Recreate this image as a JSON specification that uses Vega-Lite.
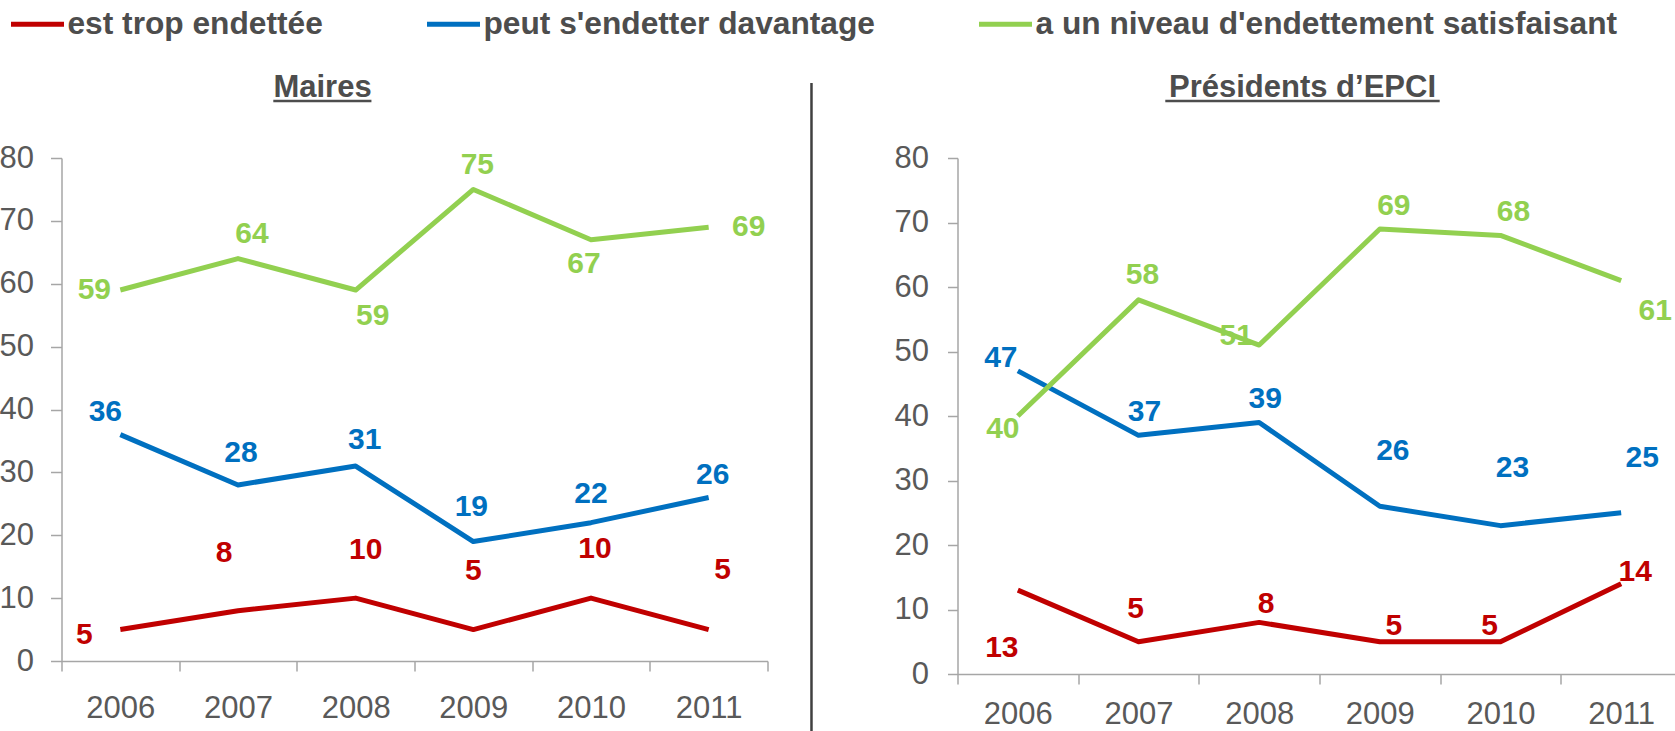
{
  "$schema": "https://vega.github.io/schema/vega-lite/v6.json",
  "background": "white",
  "padding": {"left": -1.5, "top": -5, "right": 0, "bottom": 0},
  "spacing": 20,
  "config": {
    "font": "Liberation Sans",
    "view": {"stroke": null},
    "axis": {"labelFont": "Liberation Sans", "labelFontSize": 31, "labelColor": "#595959", "domainColor": "#a6a6a6", "tickColor": "#a6a6a6", "domainWidth": 1.5, "tickWidth": 1.5, "grid": false, "title": null},
    "text": {"font": "Liberation Sans", "fontSize": 30, "fontWeight": "bold", "align": "center", "baseline": "middle"},
    "legend": {"title": null, "symbolType": "stroke", "symbolSize": 2809, "symbolStrokeWidth": 5, "labelFontSize": 31.7, "labelFontWeight": "bold", "labelColor": "#4d4d4d", "labelFont": "Liberation Sans", "labelLimit": 1000, "columnPadding": 93, "labelOffset": 1}
  },
  "datasets": {
    "d": [
      {"panel": "Maires", "serie": "est trop endettée", "annee": "2006", "valeur": 5},
      {"panel": "Maires", "serie": "est trop endettée", "annee": "2007", "valeur": 8},
      {"panel": "Maires", "serie": "est trop endettée", "annee": "2008", "valeur": 10},
      {"panel": "Maires", "serie": "est trop endettée", "annee": "2009", "valeur": 5},
      {"panel": "Maires", "serie": "est trop endettée", "annee": "2010", "valeur": 10},
      {"panel": "Maires", "serie": "est trop endettée", "annee": "2011", "valeur": 5},
      {"panel": "Maires", "serie": "peut s'endetter davantage", "annee": "2006", "valeur": 36},
      {"panel": "Maires", "serie": "peut s'endetter davantage", "annee": "2007", "valeur": 28},
      {"panel": "Maires", "serie": "peut s'endetter davantage", "annee": "2008", "valeur": 31},
      {"panel": "Maires", "serie": "peut s'endetter davantage", "annee": "2009", "valeur": 19},
      {"panel": "Maires", "serie": "peut s'endetter davantage", "annee": "2010", "valeur": 22},
      {"panel": "Maires", "serie": "peut s'endetter davantage", "annee": "2011", "valeur": 26},
      {"panel": "Maires", "serie": "a un niveau d'endettement satisfaisant", "annee": "2006", "valeur": 59},
      {"panel": "Maires", "serie": "a un niveau d'endettement satisfaisant", "annee": "2007", "valeur": 64},
      {"panel": "Maires", "serie": "a un niveau d'endettement satisfaisant", "annee": "2008", "valeur": 59},
      {"panel": "Maires", "serie": "a un niveau d'endettement satisfaisant", "annee": "2009", "valeur": 75},
      {"panel": "Maires", "serie": "a un niveau d'endettement satisfaisant", "annee": "2010", "valeur": 67},
      {"panel": "Maires", "serie": "a un niveau d'endettement satisfaisant", "annee": "2011", "valeur": 69},
      {"panel": "EPCI", "serie": "est trop endettée", "annee": "2006", "valeur": 13},
      {"panel": "EPCI", "serie": "est trop endettée", "annee": "2007", "valeur": 5},
      {"panel": "EPCI", "serie": "est trop endettée", "annee": "2008", "valeur": 8},
      {"panel": "EPCI", "serie": "est trop endettée", "annee": "2009", "valeur": 5},
      {"panel": "EPCI", "serie": "est trop endettée", "annee": "2010", "valeur": 5},
      {"panel": "EPCI", "serie": "est trop endettée", "annee": "2011", "valeur": 14},
      {"panel": "EPCI", "serie": "peut s'endetter davantage", "annee": "2006", "valeur": 47},
      {"panel": "EPCI", "serie": "peut s'endetter davantage", "annee": "2007", "valeur": 37},
      {"panel": "EPCI", "serie": "peut s'endetter davantage", "annee": "2008", "valeur": 39},
      {"panel": "EPCI", "serie": "peut s'endetter davantage", "annee": "2009", "valeur": 26},
      {"panel": "EPCI", "serie": "peut s'endetter davantage", "annee": "2010", "valeur": 23},
      {"panel": "EPCI", "serie": "peut s'endetter davantage", "annee": "2011", "valeur": 25},
      {"panel": "EPCI", "serie": "a un niveau d'endettement satisfaisant", "annee": "2006", "valeur": 40},
      {"panel": "EPCI", "serie": "a un niveau d'endettement satisfaisant", "annee": "2007", "valeur": 58},
      {"panel": "EPCI", "serie": "a un niveau d'endettement satisfaisant", "annee": "2008", "valeur": 51},
      {"panel": "EPCI", "serie": "a un niveau d'endettement satisfaisant", "annee": "2009", "valeur": 69},
      {"panel": "EPCI", "serie": "a un niveau d'endettement satisfaisant", "annee": "2010", "valeur": 68},
      {"panel": "EPCI", "serie": "a un niveau d'endettement satisfaisant", "annee": "2011", "valeur": 61}
    ]
  },
  "hconcat": [
    {
      "width": 706,
      "height": 503,
      "resolve": {"scale": {"x": "independent"}},
      "layer": [
        {
          "data": {"name": "d"},
          "transform": [{"filter": "datum.panel=='Maires'"}],
          "encoding": {
            "x": {"field": "annee", "type": "ordinal", "scale": {"type": "band", "paddingInner": 0, "paddingOuter": 0}, "axis": {"tickBand": "extent", "labelAngle": 0, "tickSize": 10, "labelPadding": 22, "title": null}},
            "y": {"field": "valeur", "type": "quantitative", "scale": {"domain": [0, 80], "nice": false}, "axis": {"values": [0, 10, 20, 30, 40, 50, 60, 70, 80], "tickSize": 11, "labelPadding": 17, "title": null}},
            "color": {"field": "serie", "type": "nominal", "scale": {"domain": ["est trop endettée", "peut s'endetter davantage", "a un niveau d'endettement satisfaisant"], "range": ["#C00000", "#0070C0", "#92D050"]}, "legend": {"orient": "none", "legendX": -53, "legendY": -163, "direction": "horizontal"}}
          },
          "layer": [
            {"mark": {"type": "line", "strokeWidth": 5, "strokeJoin": "round"}},
            {"transform": [{"filter": "indexof(datum.serie,'trop')>=0 && datum.annee=='2006'"}], "mark": {"type": "text", "dx": -36, "dy": 5}, "encoding": {"text": {"field": "valeur"}}},
            {"transform": [{"filter": "indexof(datum.serie,'trop')>=0 && datum.annee=='2007'"}], "mark": {"type": "text", "dx": -14, "dy": -58}, "encoding": {"text": {"field": "valeur"}}},
            {"transform": [{"filter": "indexof(datum.serie,'trop')>=0 && datum.annee=='2008'"}], "mark": {"type": "text", "dx": 10, "dy": -48}, "encoding": {"text": {"field": "valeur"}}},
            {"transform": [{"filter": "indexof(datum.serie,'trop')>=0 && datum.annee=='2009'"}], "mark": {"type": "text", "dx": 0, "dy": -59}, "encoding": {"text": {"field": "valeur"}}},
            {"transform": [{"filter": "indexof(datum.serie,'trop')>=0 && datum.annee=='2010'"}], "mark": {"type": "text", "dx": 4, "dy": -49}, "encoding": {"text": {"field": "valeur"}}},
            {"transform": [{"filter": "indexof(datum.serie,'trop')>=0 && datum.annee=='2011'"}], "mark": {"type": "text", "dx": 14, "dy": -60}, "encoding": {"text": {"field": "valeur"}}},
            {"transform": [{"filter": "indexof(datum.serie,'davantage')>=0 && datum.annee=='2006'"}], "mark": {"type": "text", "dx": -15, "dy": -23}, "encoding": {"text": {"field": "valeur"}}},
            {"transform": [{"filter": "indexof(datum.serie,'davantage')>=0 && datum.annee=='2007'"}], "mark": {"type": "text", "dx": 3, "dy": -32}, "encoding": {"text": {"field": "valeur"}}},
            {"transform": [{"filter": "indexof(datum.serie,'davantage')>=0 && datum.annee=='2008'"}], "mark": {"type": "text", "dx": 9, "dy": -26}, "encoding": {"text": {"field": "valeur"}}},
            {"transform": [{"filter": "indexof(datum.serie,'davantage')>=0 && datum.annee=='2009'"}], "mark": {"type": "text", "dx": -2, "dy": -35}, "encoding": {"text": {"field": "valeur"}}},
            {"transform": [{"filter": "indexof(datum.serie,'davantage')>=0 && datum.annee=='2010'"}], "mark": {"type": "text", "dx": 0, "dy": -29}, "encoding": {"text": {"field": "valeur"}}},
            {"transform": [{"filter": "indexof(datum.serie,'davantage')>=0 && datum.annee=='2011'"}], "mark": {"type": "text", "dx": 4, "dy": -23}, "encoding": {"text": {"field": "valeur"}}},
            {"transform": [{"filter": "indexof(datum.serie,'satisfaisant')>=0 && datum.annee=='2006'"}], "mark": {"type": "text", "dx": -26, "dy": 0}, "encoding": {"text": {"field": "valeur"}}},
            {"transform": [{"filter": "indexof(datum.serie,'satisfaisant')>=0 && datum.annee=='2007'"}], "mark": {"type": "text", "dx": 14, "dy": -25}, "encoding": {"text": {"field": "valeur"}}},
            {"transform": [{"filter": "indexof(datum.serie,'satisfaisant')>=0 && datum.annee=='2008'"}], "mark": {"type": "text", "dx": 17, "dy": 26}, "encoding": {"text": {"field": "valeur"}}},
            {"transform": [{"filter": "indexof(datum.serie,'satisfaisant')>=0 && datum.annee=='2009'"}], "mark": {"type": "text", "dx": 4, "dy": -24}, "encoding": {"text": {"field": "valeur"}}},
            {"transform": [{"filter": "indexof(datum.serie,'satisfaisant')>=0 && datum.annee=='2010'"}], "mark": {"type": "text", "dx": -7, "dy": 24}, "encoding": {"text": {"field": "valeur"}}},
            {"transform": [{"filter": "indexof(datum.serie,'satisfaisant')>=0 && datum.annee=='2011'"}], "mark": {"type": "text", "dx": 40, "dy": 0}, "encoding": {"text": {"field": "valeur"}}}
          ]
        },
        {
          "data": {"values": [{}]},
          "layer": [
            {
              "mark": {"type": "rule", "strokeWidth": 2.5, "color": "#4d4d4d"},
              "encoding": {
                "x": {"datum": 0.3, "type": "quantitative", "scale": {"domain": [0, 1]}, "axis": null},
                "x2": {"datum": 0.439},
                "y": {"datum": 89.07, "type": "quantitative", "scale": {"domain": [0, 80], "nice": false}}
              }
            },
            {
              "mark": {"type": "text", "text": "Maires", "fontSize": 31, "fontWeight": "bold", "color": "#4d4d4d", "baseline": "alphabetic", "align": "center"},
              "encoding": {
                "x": {"datum": 0.3697, "type": "quantitative", "scale": {"domain": [0, 1]}, "axis": null},
                "y": {"datum": 89.7, "type": "quantitative", "scale": {"domain": [0, 80], "nice": false}}
              }
            }
          ]
        }
      ]
    },
    {
      "width": 84.5,
      "height": 503,
      "data": {"values": [{}]},
      "mark": {"type": "rule", "color": "#404040", "strokeWidth": 2.5},
      "encoding": {
        "x": {"datum": 0.272, "type": "quantitative", "scale": {"domain": [0, 1]}, "axis": null},
        "y": {"datum": 1.149, "type": "quantitative", "scale": {"domain": [0, 1]}, "axis": null},
        "y2": {"datum": -0.3}
      }
    },
    {
      "width": 724,
      "height": 516,
      "resolve": {"scale": {"x": "independent"}},
      "layer": [
        {
          "data": {"name": "d"},
          "transform": [{"filter": "datum.panel=='EPCI'"}],
          "encoding": {
            "x": {"field": "annee", "type": "ordinal", "scale": {"type": "band", "paddingInner": 0, "paddingOuter": 0}, "axis": {"tickBand": "extent", "labelAngle": 0, "tickSize": 10, "labelPadding": 15, "title": null}},
            "y": {"field": "valeur", "type": "quantitative", "scale": {"domain": [0, 80], "nice": false}, "axis": {"values": [0, 10, 20, 30, 40, 50, 60, 70, 80], "tickSize": 10, "labelPadding": 19, "title": null}},
            "color": {"field": "serie", "type": "nominal", "scale": {"domain": ["est trop endettée", "peut s'endetter davantage", "a un niveau d'endettement satisfaisant"], "range": ["#C00000", "#0070C0", "#92D050"]}, "legend": {"orient": "none", "legendX": -53, "legendY": -163, "direction": "horizontal"}}
          },
          "layer": [
            {"mark": {"type": "line", "strokeWidth": 5, "strokeJoin": "round"}},
            {"transform": [{"filter": "indexof(datum.serie,'trop')>=0 && datum.annee=='2006'"}], "mark": {"type": "text", "dx": -16, "dy": 58}, "encoding": {"text": {"field": "valeur"}}},
            {"transform": [{"filter": "indexof(datum.serie,'trop')>=0 && datum.annee=='2007'"}], "mark": {"type": "text", "dx": -3, "dy": -33}, "encoding": {"text": {"field": "valeur"}}},
            {"transform": [{"filter": "indexof(datum.serie,'trop')>=0 && datum.annee=='2008'"}], "mark": {"type": "text", "dx": 7, "dy": -18}, "encoding": {"text": {"field": "valeur"}}},
            {"transform": [{"filter": "indexof(datum.serie,'trop')>=0 && datum.annee=='2009'"}], "mark": {"type": "text", "dx": 14, "dy": -16}, "encoding": {"text": {"field": "valeur"}}},
            {"transform": [{"filter": "indexof(datum.serie,'trop')>=0 && datum.annee=='2010'"}], "mark": {"type": "text", "dx": -11, "dy": -16}, "encoding": {"text": {"field": "valeur"}}},
            {"transform": [{"filter": "indexof(datum.serie,'trop')>=0 && datum.annee=='2011'"}], "mark": {"type": "text", "dx": 14, "dy": -12}, "encoding": {"text": {"field": "valeur"}}},
            {"transform": [{"filter": "indexof(datum.serie,'davantage')>=0 && datum.annee=='2006'"}], "mark": {"type": "text", "dx": -17, "dy": -13}, "encoding": {"text": {"field": "valeur"}}},
            {"transform": [{"filter": "indexof(datum.serie,'davantage')>=0 && datum.annee=='2007'"}], "mark": {"type": "text", "dx": 6, "dy": -23}, "encoding": {"text": {"field": "valeur"}}},
            {"transform": [{"filter": "indexof(datum.serie,'davantage')>=0 && datum.annee=='2008'"}], "mark": {"type": "text", "dx": 6, "dy": -23}, "encoding": {"text": {"field": "valeur"}}},
            {"transform": [{"filter": "indexof(datum.serie,'davantage')>=0 && datum.annee=='2009'"}], "mark": {"type": "text", "dx": 13, "dy": -55}, "encoding": {"text": {"field": "valeur"}}},
            {"transform": [{"filter": "indexof(datum.serie,'davantage')>=0 && datum.annee=='2010'"}], "mark": {"type": "text", "dx": 12, "dy": -58}, "encoding": {"text": {"field": "valeur"}}},
            {"transform": [{"filter": "indexof(datum.serie,'davantage')>=0 && datum.annee=='2011'"}], "mark": {"type": "text", "dx": 21, "dy": -55}, "encoding": {"text": {"field": "valeur"}}},
            {"transform": [{"filter": "indexof(datum.serie,'satisfaisant')>=0 && datum.annee=='2006'"}], "mark": {"type": "text", "dx": -15, "dy": 13}, "encoding": {"text": {"field": "valeur"}}},
            {"transform": [{"filter": "indexof(datum.serie,'satisfaisant')>=0 && datum.annee=='2007'"}], "mark": {"type": "text", "dx": 4, "dy": -25}, "encoding": {"text": {"field": "valeur"}}},
            {"transform": [{"filter": "indexof(datum.serie,'satisfaisant')>=0 && datum.annee=='2008'"}], "mark": {"type": "text", "dx": -23, "dy": -9}, "encoding": {"text": {"field": "valeur"}}},
            {"transform": [{"filter": "indexof(datum.serie,'satisfaisant')>=0 && datum.annee=='2009'"}], "mark": {"type": "text", "dx": 14, "dy": -23}, "encoding": {"text": {"field": "valeur"}}},
            {"transform": [{"filter": "indexof(datum.serie,'satisfaisant')>=0 && datum.annee=='2010'"}], "mark": {"type": "text", "dx": 13, "dy": -23}, "encoding": {"text": {"field": "valeur"}}},
            {"transform": [{"filter": "indexof(datum.serie,'satisfaisant')>=0 && datum.annee=='2011'"}], "mark": {"type": "text", "dx": 34, "dy": 30}, "encoding": {"text": {"field": "valeur"}}}
          ]
        },
        {
          "data": {"values": [{}]},
          "layer": [
            {
              "mark": {"type": "rule", "strokeWidth": 2.5, "color": "#4d4d4d"},
              "encoding": {
                "x": {"datum": 0.287, "type": "quantitative", "scale": {"domain": [0, 1]}, "axis": null},
                "x2": {"datum": 0.666},
                "y": {"datum": 88.84, "type": "quantitative", "scale": {"domain": [0, 80], "nice": false}}
              }
            },
            {
              "mark": {"type": "text", "text": "Présidents d’EPCI", "fontSize": 31, "fontWeight": "bold", "color": "#4d4d4d", "baseline": "alphabetic", "align": "center"},
              "encoding": {
                "x": {"datum": 0.4765, "type": "quantitative", "scale": {"domain": [0, 1]}, "axis": null},
                "y": {"datum": 89.46, "type": "quantitative", "scale": {"domain": [0, 80], "nice": false}}
              }
            }
          ]
        }
      ]
    }
  ]
}
